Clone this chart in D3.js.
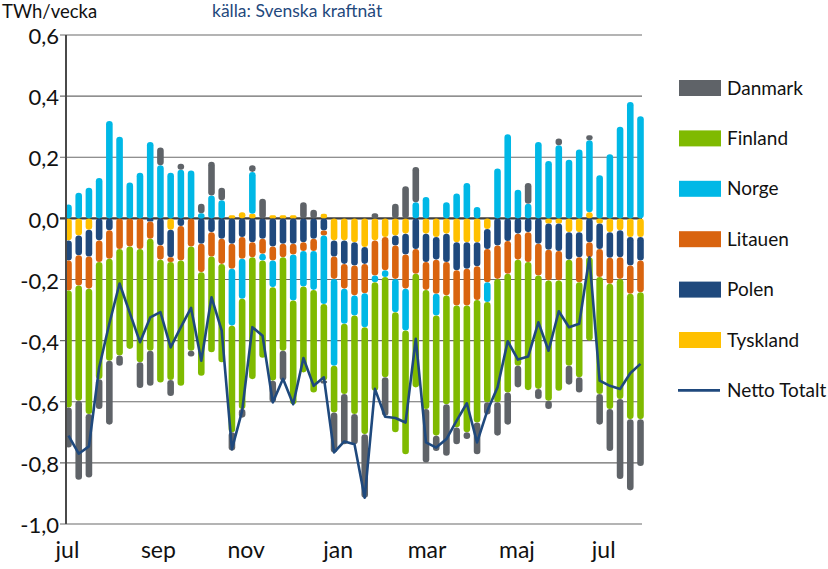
<!DOCTYPE html>
<html><head><meta charset="utf-8">
<script src="https://cdn.jsdelivr.net/npm/d3@7"></script>
<style>
html,body{margin:0;padding:0;background:#fff;}
svg{display:block;font-family:Lato, "Liberation Sans", sans-serif;}
</style></head>
<body><svg id="c" width="828" height="569"></svg>
<script>
// week categories (ISO week numbers, season jul -> jul)
const weeks = [27,28,29,30,31,32,33,34,35,36,37,38,39,40,41,42,43,44,45,46,47,48,49,50,51,52,
  1,2,3,4,5,6,7,8,9,10,11,12,13,14,15,16,17,18,19,20,21,22,23,24,25,26,27,28,29,30,31];
const monthLabels = ["jul","sep","nov","jan","mar","maj","jul"];
const monthPos = [-0.1, 8.8, 17.4, 26.4, 35.1, 43.9, 52.4]; // position in weeks
const yTicks = [0.6,0.4,0.2,0.0,-0.2,-0.4,-0.6,-0.8,-1.0];

const tyskland = [-0.072,-0.056,-0.037,0,0,0,0,0,0,0,-0.037,0,0,0,0,0,0.01,0.02,0.015,0,0.01,0.01,0.01,0,0,0.015,
  -0.072,-0.072,-0.078,-0.094,-0.072,-0.061,-0.056,-0.05,0,-0.05,-0.061,-0.05,-0.078,-0.078,-0.078,-0.035,0,0,0,0,0,
  -0.017,-0.017,-0.045,-0.045,0.02,-0.017,-0.045,-0.039,-0.061,-0.061];
const polen = [-0.066,-0.065,-0.088,-0.072,-0.039,0,0,0,-0.01,-0.088,-0.09,-0.025,0,-0.083,-0.045,-0.067,-0.083,-0.061,-0.078,-0.067,
  -0.092,-0.083,-0.083,-0.078,-0.067,-0.04,-0.053,-0.077,-0.076,-0.055,0,0,-0.033,-0.068,-0.10,-0.093,-0.074,-0.093,-0.092,-0.087,
  -0.079,-0.065,-0.089,-0.074,-0.05,-0.045,-0.083,-0.086,-0.09,-0.09,-0.082,-0.078,-0.083,-0.084,-0.088,-0.093,-0.077];
const litauen = [-0.098,-0.099,-0.105,-0.071,-0.093,-0.10,-0.092,-0.10,-0.057,-0.047,-0.016,-0.113,-0.092,-0.093,-0.08,-0.082,-0.082,
  -0.071,-0.049,-0.049,-0.046,-0.044,-0.035,-0.029,-0.04,-0.016,-0.073,-0.081,-0.098,-0.096,-0.115,-0.109,-0.109,-0.112,-0.081,
  -0.091,-0.112,-0.109,-0.115,-0.12,-0.11,-0.109,-0.109,-0.107,-0.085,-0.098,-0.104,-0.10,-0.096,0,-0.082,-0.049,-0.092,-0.085,
  -0.071,-0.093,-0.104];
const norge = [0.045,0.084,0.10,0.132,0.319,0.267,0.117,0.149,0.25,0.174,0.149,0.159,0.157,0.017,0.075,0.059,-0.186,-0.131,0.137,
  -0.022,-0.087,0,-0.151,-0.116,-0.127,-0.224,-0.284,-0.115,-0.066,-0.111,-0.022,-0.022,-0.109,-0.137,0.053,0.07,-0.071,0.053,
  0.081,0.116,0.037,-0.065,0.163,0.275,0.094,0.048,0.25,0.188,0.239,0.192,0.225,0.236,0.141,0.21,0.30,0.381,0.334];
const finland = [-0.383,-0.377,-0.41,-0.383,-0.334,-0.349,-0.335,-0.371,-0.366,-0.402,-0.386,-0.41,-0.341,-0.339,-0.313,-0.322,
  -0.349,-0.361,-0.399,-0.318,-0.306,-0.306,-0.339,-0.281,-0.336,-0.251,-0.153,-0.23,-0.322,-0.35,-0.355,-0.328,-0.393,-0.405,
  -0.372,-0.39,-0.393,-0.356,-0.399,-0.415,-0.401,-0.328,-0.404,-0.389,-0.347,-0.419,-0.371,-0.394,-0.361,-0.347,-0.311,-0.273,
  -0.383,-0.41,-0.393,-0.41,-0.415];
const danmark = [-0.131,-0.258,-0.208,-0.098,-0.209,-0.033,0,-0.084,-0.115,0.058,-0.052,0.02,-0.019,0.031,0.11,0.041,-0.06,-0.028,
  0.022,0.064,-0.071,-0.098,0,0.053,0.028,-0.009,-0.131,-0.164,-0.099,-0.208,0.017,-0.126,0.048,0.105,0.115,-0.175,-0.05,-0.169,
  -0.055,-0.022,-0.104,-0.04,-0.109,-0.105,-0.071,0.068,-0.033,-0.027,0.022,-0.062,-0.05,0.016,-0.10,-0.137,-0.262,-0.233,-0.153];
const nettoTotalt = [-0.711,-0.77,-0.746,-0.488,-0.344,-0.213,-0.309,-0.405,-0.324,-0.307,-0.422,-0.356,-0.293,-0.466,-0.258,-0.367,
  -0.755,-0.63,-0.356,-0.384,-0.602,-0.525,-0.608,-0.457,-0.548,-0.52,-0.766,-0.73,-0.739,-0.914,-0.558,-0.649,-0.653,-0.668,
  -0.394,-0.733,-0.75,-0.722,-0.662,-0.605,-0.733,-0.63,-0.553,-0.402,-0.462,-0.452,-0.34,-0.433,-0.304,-0.356,-0.345,-0.127,
  -0.531,-0.548,-0.558,-0.507,-0.476];

const seriesNames = ["Tyskland","Polen","Litauen","Norge","Finland","Danmark"];
const seriesData = [tyskland, polen, litauen, norge, finland, danmark];
const colors = {Tyskland:"#ffc000",Polen:"#1f497d",Litauen:"#d9640f",Norge:"#00b8e6",Finland:"#7fba00",Danmark:"#5f6368"};
const legendOrder = ["Danmark","Finland","Norge","Litauen","Polen","Tyskland"];

const rows = weeks.map((w,i)=>{const r={i};seriesNames.forEach((s,k)=>r[s]=seriesData[k][i]);return r;});

const svg = d3.select("#c");
const L=66, R=642, T=35, B=524;
const x = d3.scaleLinear().domain([0, weeks.length-1]).range([68.5, 640.5]);
const y = d3.scaleLinear().domain([-1, 0.6]).range([B, T]);

// gridlines
svg.append("g").selectAll("line").data(yTicks).join("line")
  .attr("x1",L-6).attr("x2",R).attr("y1",d=>y(d)).attr("y2",d=>y(d))
  .attr("stroke",d=>d===0?"#3f3f3f":"#6b6b6b").attr("stroke-width",d=>d===0?2.2:1.2);

// bars
const stack = d3.stack().keys(seriesNames).offset(d3.stackOffsetDiverging);
const stacked = stack(rows);
const bw = 6.6;
const gBars = svg.append("g");
stacked.forEach(layer=>{
  gBars.append("g").attr("fill",colors[layer.key]).selectAll("rect")
    .data(layer.filter(d=>Math.abs(d[1]-d[0])>1e-6)).join("rect")
    .attr("x",d=>x(d.data.i)-bw/2).attr("width",bw)
    .attr("y",d=>y(Math.max(d[0],d[1])))
    .attr("height",d=>Math.abs(y(d[0])-y(d[1])))
    .attr("rx",d=>Math.min(3.3,Math.abs(y(d[0])-y(d[1]))/2))
    .attr("ry",d=>Math.min(3.3,Math.abs(y(d[0])-y(d[1]))/2));
});

// left axis line
svg.append("line").attr("x1",L).attr("x2",L).attr("y1",T).attr("y2",B).attr("stroke","#4a4a4a").attr("stroke-width",2);

// netto line
svg.append("path").datum(nettoTotalt)
  .attr("d",d3.line().x((d,i)=>x(i)).y(d=>y(d)))
  .attr("fill","none").attr("stroke","#1f497d").attr("stroke-width",2.6).attr("stroke-linejoin","round");

// y labels
svg.append("g").selectAll("text").data(yTicks).join("text")
  .attr("x",59).attr("y",d=>y(d)).attr("dy","0.42em").attr("text-anchor","end")
  .attr("font-size",22).attr("fill","#111")
  .text(d=>d3.format(".1f")(d).replace(".",",").replace("−","-"));

// x labels
svg.append("g").selectAll("text").data(monthLabels).join("text")
  .attr("x",(d,i)=>x(monthPos[i])).attr("y",558).attr("text-anchor","middle")
  .attr("font-size",23).attr("fill","#111").text(d=>d);

// titles
svg.append("text").attr("x",2).attr("y",18.4).attr("font-size",18.5).attr("fill","#111").text("TWh/vecka");
svg.append("text").attr("x",212).attr("y",17.4).attr("font-size",17.5).attr("fill","#1f497d").text("källa: Svenska kraftnät");

// legend
const lg = svg.append("g");
const items = legendOrder.concat(["Netto Totalt"]);
items.forEach((name,k)=>{
  const cy = 88 + k*50.4;
  if(name==="Netto Totalt"){
    lg.append("line").attr("x1",678).attr("x2",720).attr("y1",cy).attr("y2",cy).attr("stroke","#1f497d").attr("stroke-width",2.6);
  } else {
    lg.append("rect").attr("x",679).attr("y",cy-8).attr("width",42).attr("height",16).attr("fill",colors[name]);
  }
  lg.append("text").attr("x",727).attr("y",cy).attr("dy","0.35em").attr("font-size",19).attr("fill","#111").text(name);
});
</script></body></html>
